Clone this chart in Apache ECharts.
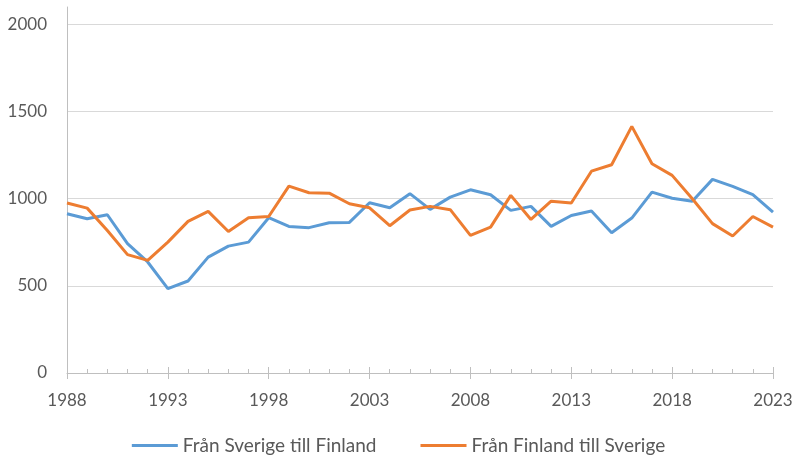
<!DOCTYPE html>
<html>
<head>
<meta charset="utf-8">
<script src="https://cdn.jsdelivr.net/npm/echarts@6/dist/echarts.min.js"></script>
<style>
  html, body { margin: 0; padding: 0; background: #fff; }
  #chart { width: 797px; height: 457px; }
</style>
</head>
<body>
<div id="chart"></div>
<script>
const years = [];
for (let y = 1988; y <= 2023; y++) years.push(y);

const seriesNames = ['Från Sverige till Finland', 'Från Finland till Sverige'];

const sverigeTillFinland = [914, 885, 908, 742, 637, 484, 528, 665, 728, 751,
    891, 841, 834, 862, 864, 977, 948, 1029, 939, 1009,
    1051, 1023, 933, 956, 841, 904, 929, 805, 889, 1038,
    1003, 986, 1111, 1071, 1023, 923];
const finlandTillSverige = [975, 946, 818, 679, 646, 751, 870, 927, 812, 891,
    898, 1072, 1034, 1032, 971, 948, 845, 935, 956, 937,
    790, 837, 1019, 881, 986, 975, 1158, 1195, 1415, 1201,
    1134, 1000, 857, 786, 898, 837];

const colors = ['#5b9bd5', '#ed7d31'];
const textColor = '#595959';
const font = 'Lato';

const toPairs = vals => vals.map((v, i) => [years[i], v]);

const chart = echarts.init(document.getElementById('chart'));
chart.setOption({
    animation: false,
    backgroundColor: '#fff',
    grid: { left: 67, right: 24, top: 7, bottom: 84 },
    legend: {
        top: 431,
        left: 'center',
        icon: 'rect',
        itemWidth: 46,
        itemHeight: 3,
        itemGap: 44,
        textStyle: { color: textColor, fontFamily: font, fontSize: 19 },
        data: seriesNames
    },
    xAxis: [
        {
            type: 'value',
            min: 1988,
            max: 2023,
            interval: 5,
            axisLine: { lineStyle: { color: '#bfbfbf', width: 1 } },
            axisTick: { show: true, length: 6, lineStyle: { color: '#bfbfbf' } },
            splitLine: { show: false },
            axisLabel: {
                color: textColor, fontFamily: font, fontSize: 17, margin: 19,
                formatter: v => String(v)
            }
        },
        {
            // inner half of the ticks, with the yearly minor ticks
            type: 'value',
            position: 'bottom',
            min: 1988,
            max: 2023,
            interval: 5,
            axisLine: { show: false },
            axisTick: { show: true, inside: true, length: 6, lineStyle: { color: '#bfbfbf' } },
            minorTick: { show: true, splitNumber: 5, length: 4, lineStyle: { color: '#bfbfbf' } },
            splitLine: { show: false },
            axisLabel: { show: false }
        }
    ],
    yAxis: {
        type: 'value',
        min: 0,
        max: 2100,
        interval: 500,
        axisLine: { show: true, lineStyle: { color: '#bfbfbf', width: 1 } },
        axisTick: { show: false },
        splitLine: { show: true, showMaxLine: false, lineStyle: { color: '#d9d9d9', width: 1 } },
        axisLabel: {
            color: textColor, fontFamily: font, fontSize: 17, margin: 20,
            showMaxLabel: false,
            formatter: v => (v > 2000 ? '' : String(v))
        }
    },
    series: [
        {
            name: seriesNames[0],
            type: 'line',
            xAxisIndex: 0,
            showSymbol: false,
            data: toPairs(sverigeTillFinland),
            lineStyle: { color: colors[0], width: 3 },
            itemStyle: { color: colors[0] }
        },
        {
            name: seriesNames[1],
            type: 'line',
            xAxisIndex: 0,
            showSymbol: false,
            data: toPairs(finlandTillSverige),
            lineStyle: { color: colors[1], width: 3 },
            itemStyle: { color: colors[1] }
        }
    ]
});
</script>
</body>
</html>
